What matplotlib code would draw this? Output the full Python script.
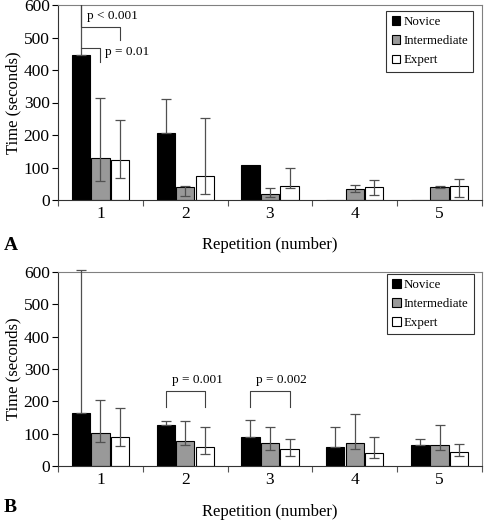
import numpy as np
import matplotlib
matplotlib.use("Agg")
import matplotlib.pyplot as plt
from matplotlib.patches import Patch

plt.rcParams['font.family'] = ['Liberation Serif', 'DejaVu Serif']

categories = ["1", "2", "3", "4", "5"]
series_names = ["Novice", "Intermediate", "Expert"]
nan = np.nan

# Panel A values (mean, lower, upper)
novice_A = [447, 206, 108, 0, 0]
novice_A_lo = [447, 206, nan, nan, nan]
novice_A_hi = [640, 311, nan, nan, nan]
inter_A = [130, 40, 17, 35, 40]
inter_A_lo = [60, 11, 10, 25, 37]
inter_A_hi = [313, 42, 37, 45, 42]
expert_A = [124, 75, 42, 40, 43]
expert_A_lo = [69, 17, 37, 16, 10]
expert_A_hi = [246, 252, 97, 61, 64]

# Panel B values
novice_B = [165, 127, 90, 60, 66]
novice_B_lo = [165, 127, 90, 60, 66]
novice_B_hi = [605, 138, 141, 122, 82]
inter_B = [103, 77, 71, 72, 64]
inter_B_lo = [73, 66, 48, 52, 48]
inter_B_hi = [204, 138, 122, 162, 128]
expert_B = [90, 58, 53, 40, 42]
expert_B_lo = [62, 37, 32, 24, 30]
expert_B_hi = [178, 120, 85, 91, 67]

colors = ["#000000", "#999999", "#ffffff"]
offsets = [-0.23, 0.0, 0.23]
width = 0.215
err_color = "#505050"

fig = plt.figure(figsize=(4.84, 5.21), dpi=100)
axA = fig.add_axes([58/484, 1-200/521, 424/484, 195/521])
axB = fig.add_axes([58/484, 1-466/521, 424/484, 194/521])


def draw(ax, data, clip, xlabelpad):
    x = np.arange(1, len(categories) + 1)
    for (vals, lo, hi), c, off, name in zip(data, colors, offsets, series_names):
        vals = np.array(vals, float)
        lo = np.array(lo, float)
        hi = np.array(hi, float)
        ax.bar(x + off, vals, width, color=c, edgecolor="black", linewidth=0.8,
               label=name, zorder=2)
        yerr = np.vstack([vals - lo, hi - vals])
        eb = ax.errorbar(x + off, vals, yerr=yerr, fmt="none", ecolor=err_color,
                         elinewidth=0.9, capsize=3.5, capthick=0.9, zorder=3)
        for art in list(eb.lines[1]) + list(eb.lines[2]):
            art.set_clip_on(clip)
    ax.set_xlim(0.5, 5.5)
    ax.set_ylim(0, 600)
    ax.set_yticks(range(0, 601, 100))
    ax.set_xticks(x)
    ax.set_xticklabels(categories)
    ax.set_xticks(np.arange(0.5, 5.6, 1.0), minor=True)
    ax.tick_params(axis="x", which="major", length=0, pad=4, labelsize=12.5)
    ax.tick_params(axis="x", which="minor", length=4, width=0.8, color="#555555")
    ax.tick_params(axis="y", length=4, width=0.8, labelsize=12.5, pad=2)
    for s in ["top", "right"]:
        ax.spines[s].set_color("#808080")
        ax.spines[s].set_linewidth(0.8)
    for s in ["left", "bottom"]:
        ax.spines[s].set_color("#333333")
        ax.spines[s].set_linewidth(0.8)
    ax.set_xlabel("Repetition (number)", fontsize=12, labelpad=xlabelpad)
    ax.set_ylabel("Time (seconds)", fontsize=12, labelpad=1.5)


draw(axA, [(novice_A, novice_A_lo, novice_A_hi), (inter_A, inter_A_lo, inter_A_hi),
           (expert_A, expert_A_lo, expert_A_hi)], clip=True, xlabelpad=11)
draw(axB, [(novice_B, novice_B_lo, novice_B_hi), (inter_B, inter_B_lo, inter_B_hi),
           (expert_B, expert_B_lo, expert_B_hi)], clip=False, xlabelpad=12)

handles = [Patch(facecolor=c, edgecolor="black", linewidth=0.8) for c in colors]
for ax, anchor in [(axA, (0.979, 0.969)), (axB, (0.981, 0.99))]:
    leg = ax.legend(handles, series_names, loc="upper right", bbox_to_anchor=anchor,
                    borderaxespad=0, fontsize=9.3, frameon=True, fancybox=False,
                    edgecolor="black", handlelength=0.65, handleheight=0.65,
                    handletextpad=0.25, labelspacing=0.55, borderpad=0.4)
    leg.get_frame().set_linewidth(0.8)

# significance brackets panel A
bk = dict(color="#404040", linewidth=0.8, zorder=4)
axA.plot([0.77, 0.77, 1.23, 1.23], [600, 533, 533, 492], **bk)
axA.plot([0.77, 0.77, 1.0, 1.0], [467, 467, 467, 424], **bk)
axA.text(0.845, 566, "p < 0.001", fontsize=9.5, va="center", ha="left")
axA.text(1.053, 455, "p = 0.01", fontsize=9.5, va="center", ha="left")

# significance brackets panel B
for xc, lab in [(2, "p = 0.001"), (3, "p = 0.002")]:
    axB.plot([xc - 0.23, xc - 0.23, xc + 0.23, xc + 0.23], [182, 231, 231, 182], **bk)
    axB.text(xc + 0.14, 265, lab, fontsize=9.5, va="center", ha="center")

fig.text(0.008, 1-245/521, "A", fontsize=14, fontweight="bold", va="center")
fig.text(0.008, 1-508/521, "B", fontsize=14, fontweight="bold", va="center")

fig.savefig("out.png", dpi=100)
